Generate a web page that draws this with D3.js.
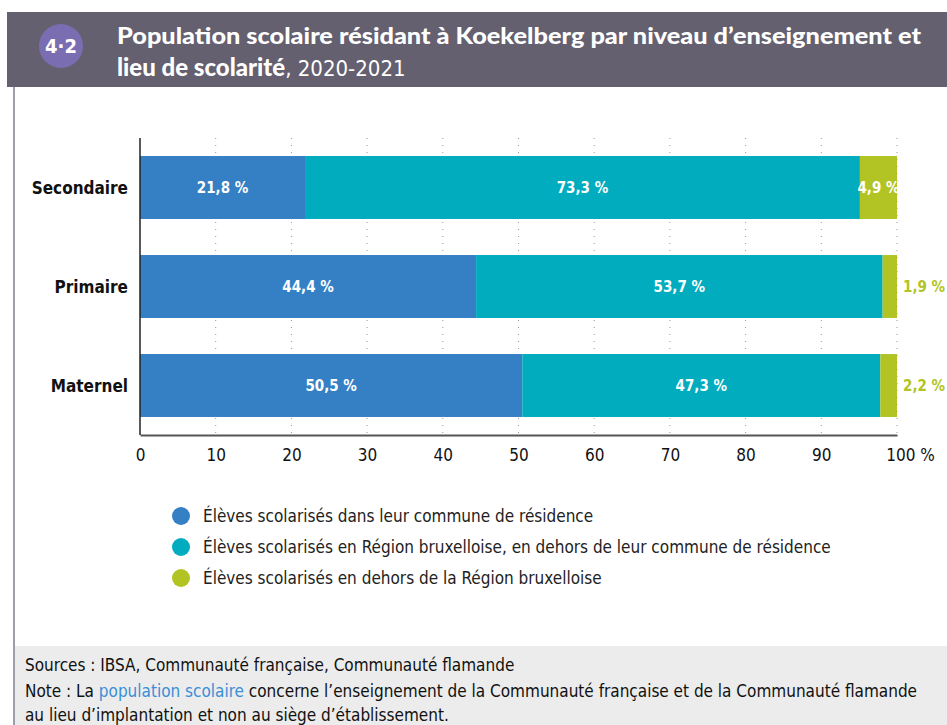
<!DOCTYPE html>
<html lang="fr">
  <head>
    <meta charset="utf-8">
    <title>Population scolaire Koekelberg</title>
    <style>
      body { margin: 0; background: #fff; }
      svg { display: block; }
    </style>
  </head>
  <body>
    <svg></svg>
    <script src="https://d3js.org/d3.v7.min.js"></script>
    <script>
      // données
      var categories = ['Secondaire', 'Primaire', 'Maternel'];
      var series = [
        'Élèves scolarisés dans leur commune de résidence',
        'Élèves scolarisés en Région bruxelloise, en dehors de leur commune de résidence',
        'Élèves scolarisés en dehors de la Région bruxelloise'
      ];
      var dansCommune = [21.8, 44.4, 50.5];
      var regionBxl = [73.3, 53.7, 47.3];
      var horsRegion = [4.9, 1.9, 2.2];
      var xTicks = [0, 10, 20, 30, 40, 50, 60, 70, 80, 90, 100];

      var colors = ['#3580c4', '#00acbd', '#b1c424'];
      var width = 947, height = 725;
      var narrow = '"Liberation Sans Narrow", "DejaVu Sans Condensed", sans-serif';

      var svg = d3.select('svg').attr('width', width).attr('height', height);

      // cadre : bandeau titre, bord gauche, pied gris
      svg.append('rect').attr('x', 7).attr('y', 12).attr('width', width - 7).attr('height', 75).attr('fill', '#64606f');
      svg.append('rect').attr('x', 13).attr('y', 646).attr('width', width - 13).attr('height', height - 646).attr('fill', '#ececec');
      svg.append('line').attr('x1', 14).attr('x2', 14).attr('y1', 87).attr('y2', height)
        .attr('stroke', '#a09eac').attr('stroke-width', 2);

      svg.append('circle').attr('cx', 61).attr('cy', 46).attr('r', 22).attr('fill', '#7b6db1');
      svg.append('text').attr('x', 61).attr('y', 53).attr('text-anchor', 'middle')
        .attr('fill', '#fff').attr('font-family', narrow).attr('font-weight', 'bold').attr('font-size', 20)
        .text('4·2');

      var title = svg.append('text').attr('fill', '#fff').attr('font-family', 'Lato, sans-serif');
      title.append('tspan').attr('x', 117).attr('y', 44).attr('font-weight', 900).attr('font-size', 23)
        .attr('textLength', 804).attr('lengthAdjust', 'spacingAndGlyphs')
        .text('Population scolaire résidant à Koekelberg par niveau d’enseignement et');
      title.append('tspan').attr('x', 117).attr('y', 76).attr('font-weight', 900).attr('font-size', 24)
        .text('lieu de scolarité');
      title.append('tspan').attr('font-size', 22).attr('font-family', narrow).text(', 2020-2021');

      // échelles
      var x = d3.scaleLinear().domain([0, 100]).range([140, 897]);
      var y = d3.scaleBand().domain(categories).range([138, 435]).paddingInner(0.364).paddingOuter(0.182);

      // grille pointillée
      svg.append('g').selectAll('line').data(xTicks.slice(1)).enter().append('line')
        .attr('x1', function(d) { return x(d); }).attr('x2', function(d) { return x(d); })
        .attr('y1', 138).attr('y2', 434)
        .attr('stroke', '#999').attr('stroke-width', 1).attr('stroke-dasharray', '1,6');

      // barres empilées
      var rows = categories.map(function(c, i) {
        return { cat: c, values: [dansCommune[i], regionBxl[i], horsRegion[i]] };
      });
      var segs = [];
      rows.forEach(function(r) {
        var acc = 0;
        r.values.forEach(function(v, k) {
          segs.push({ cat: r.cat, k: k, v: v, x0: acc, x1: acc + v });
          acc += v;
        });
      });
      svg.append('g').selectAll('rect').data(segs).enter().append('rect')
        .attr('x', function(d) { return x(d.x0); })
        .attr('width', function(d) { return x(Math.min(d.x1, 100)) - x(d.x0); })
        .attr('y', function(d) { return y(d.cat); })
        .attr('height', y.bandwidth())
        .attr('fill', function(d) { return colors[d.k]; });

      function fmt(v) { return String(v).replace('.', ',') + ' %'; }

      // étiquettes de valeur
      svg.append('g').selectAll('text').data(segs).enter().append('text')
        .attr('x', function(d) {
          if (d.k === 2 && d.v < 3) return x(100) + 6;
          return (x(d.x0) + x(Math.min(d.x1, 100))) / 2;
        })
        .attr('y', function(d) { return y(d.cat) + y.bandwidth() / 2 + 5; })
        .attr('text-anchor', function(d) { return (d.k === 2 && d.v < 3) ? 'start' : 'middle'; })
        .attr('fill', function(d) { return (d.k === 2 && d.v < 3) ? colors[2] : '#fff'; })
        .attr('font-family', narrow).attr('font-weight', 'bold').attr('font-size', 15)
        .text(function(d) { return fmt(d.v); });

      // axe y
      svg.append('g').selectAll('text').data(categories).enter().append('text')
        .attr('x', 128).attr('y', function(d) { return y(d) + y.bandwidth() / 2 + 6; })
        .attr('text-anchor', 'end').attr('font-family', narrow).attr('font-weight', 'bold')
        .attr('font-size', 17).attr('fill', '#111').text(function(d) { return d; });
      svg.append('line').attr('x1', 140).attr('x2', 140).attr('y1', 138).attr('y2', 435)
        .attr('stroke', '#222').attr('stroke-width', 1.5);

      // axe x
      var xAxis = svg.append('g').attr('transform', 'translate(0,435)')
        .call(d3.axisBottom(x).tickValues(xTicks).tickSize(0).tickPadding(14)
          .tickFormat(function(d) { return d === 100 ? '100 %' : d; }));
      xAxis.select('.domain').attr('stroke', '#555').attr('stroke-width', 2);
      xAxis.selectAll('text').attr('font-family', narrow).attr('font-size', 17).attr('fill', '#111');
      xAxis.selectAll('.tick').filter(function(d) { return d === 100; }).select('text').attr('dx', 13);

      // légende
      var leg = svg.append('g').selectAll('g').data(series).enter().append('g')
        .attr('transform', function(d, i) { return 'translate(181,' + (516 + i * 31) + ')'; });
      leg.append('circle').attr('r', 9).attr('fill', function(d, i) { return colors[i]; });
      leg.append('text').attr('x', 22).attr('y', 6).attr('font-family', narrow).attr('font-size', 17)
        .attr('fill', '#222').text(function(d) { return d; });

      // sources et note
      var foot = svg.append('g').attr('font-family', narrow).attr('font-size', 17).attr('fill', '#111');
      foot.append('text').attr('x', 25).attr('y', 671).text('Sources : IBSA, Communauté française, Communauté flamande');
      var note = foot.append('text').attr('x', 25).attr('y', 697);
      note.append('tspan').text('Note : La ');
      note.append('tspan').attr('fill', '#3a8fd6').text('population scolaire');
      note.append('tspan').text(' concerne l’enseignement de la Communauté française et de la Communauté flamande');
      foot.append('text').attr('x', 25).attr('y', 721).text('au lieu d’implantation et non au siège d’établissement.');
    </script>
  </body>
</html>
